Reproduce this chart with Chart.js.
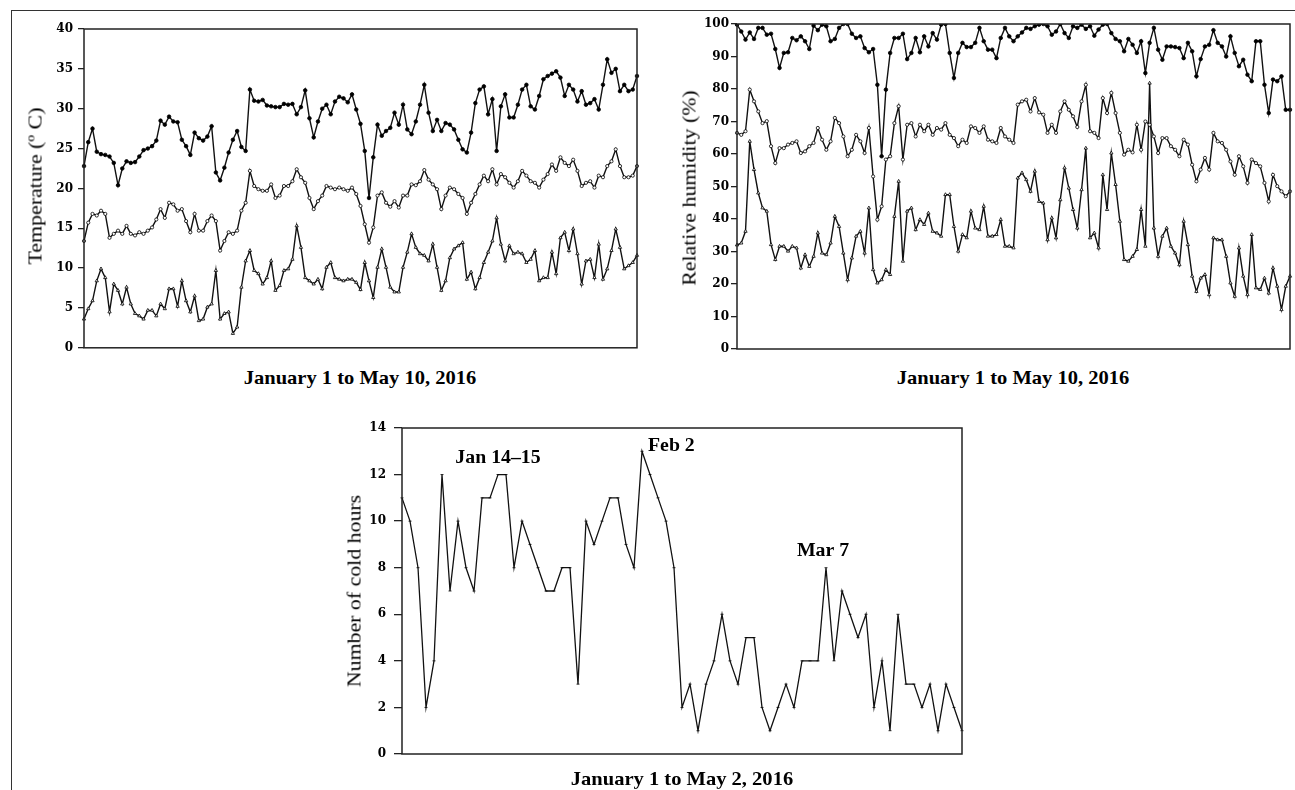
<!DOCTYPE html>
<html>
<head>
<meta charset="utf-8">
<script src="https://cdn.jsdelivr.net/npm/chart.js@4.4.1/dist/chart.umd.min.js"></script>
<style>
  html, body { margin:0; padding:0; background:#fff; }
  body { width:1295px; height:790px; position:relative; overflow:hidden; }
  .frame { position:absolute; left:11px; top:10px; width:1400px; height:900px; border-left:1.5px solid #333; border-top:1.5px solid #333; }
  canvas { position:absolute; }
  .t { position:absolute; white-space:nowrap; color:#000; font-family:"Liberation Serif","Times New Roman",serif; line-height:1; }
  .xt { font-weight:bold; font-size:19px; transform:translate(-50%,-50%) scaleX(1.08); }
  .yt { font-size:19px; transform:translate(-50%,-50%) rotate(-90deg) scaleX(1.15); }
</style>
</head>
<body>
<div class="frame"></div>
<canvas id="c1" width="660" height="360" style="left:0;top:0;width:660px;height:360px"></canvas>
<canvas id="c2" width="635" height="360" style="left:660px;top:0;width:635px;height:360px"></canvas>
<canvas id="c3" width="660" height="370" style="left:330px;top:400px;width:660px;height:370px"></canvas>

<div class="t xt" style="left:360px;top:377px">January 1 to May 10, 2016</div>
<div class="t xt" style="left:1013px;top:377px">January 1 to May 10, 2016</div>
<div class="t xt" style="left:682px;top:778px">January 1 to May 2, 2016</div>
<div class="t yt" style="left:35px;top:186px">Temperature (º C)</div>
<div class="t yt" style="left:689px;top:188px">Relative humidity (%)</div>
<div class="t yt" style="left:354px;top:591px">Number of cold hours</div>

<script>
// ---------- DATA ----------
const tempMax = [
22.8, 25.8, 27.5, 24.6, 24.3, 24.2, 24.0, 23.2, 20.4, 22.5,
23.4, 23.2, 23.3, 24.0, 24.8, 25.0, 25.3, 26.0, 28.5, 28.0,
29.0, 28.4, 28.3, 26.1, 25.3, 24.2, 27.0, 26.3, 26.0, 26.5,
27.8, 22.0, 21.0, 22.6, 24.5, 26.1, 27.2, 25.2, 24.7, 32.4,
31.0, 30.9, 31.1, 30.4, 30.3, 30.2, 30.2, 30.6, 30.5, 30.6,
29.3, 30.2, 32.3, 28.8, 26.4, 28.4, 30.0, 30.5, 29.3, 30.9,
31.5, 31.3, 30.8,
31.8, 29.9, 28.1, 24.7, 18.8, 23.9, 28.0, 26.6, 27.2, 27.6,
29.5, 28.0, 30.5, 27.4, 26.8, 28.4, 30.5, 33.0, 29.5, 27.2,
28.6, 27.2, 28.2, 28.0, 27.4, 26.1, 24.9, 24.5, 27.0, 30.7,
32.4, 32.8, 29.3, 31.2, 24.7, 30.3, 31.8, 28.9, 28.9, 30.5,
32.4, 33.0, 30.3, 29.9, 31.6, 33.7, 34.1, 34.4, 34.7, 33.9,
31.6, 33.0, 32.4, 30.9, 32.2, 30.5, 30.7, 31.2, 29.9, 33.0,
36.2, 34.5, 35.0, 32.2, 33.0, 32.2, 32.4, 34.1
];
const tempMean = [
13.4, 15.7, 16.8, 16.6, 17.2, 16.8, 13.8, 14.3, 14.7, 14.3,
15.3, 14.3, 14.1, 14.5, 14.3, 14.7, 15.1, 16.1, 17.4, 16.3,
18.2, 18.0, 17.2, 17.4, 15.9, 14.5, 16.8, 14.7, 14.7, 15.9,
16.6, 15.9, 12.2, 13.4, 14.5, 14.3, 14.7, 17.2, 18.2, 22.2,
20.3, 19.9, 19.7, 19.7, 20.5, 18.8, 19.1, 20.3, 20.3, 20.9,
22.4, 21.4, 20.7, 18.8, 17.4, 18.4, 19.1, 20.3, 20.1, 19.9,
20.1, 19.9, 19.7,
20.1, 19.3, 17.8, 15.5, 13.2, 15.1, 19.1, 19.5, 18.2, 17.7,
18.4, 17.6, 19.1, 19.1, 20.5, 20.4, 20.9, 22.3, 21.1, 20.5,
19.9, 17.4, 19.1, 20.1, 19.9, 19.3, 18.8, 16.8, 18.2, 19.3,
20.5, 21.6, 20.9, 22.4, 20.5, 21.8, 21.4, 20.7, 20.1, 20.9,
22.2, 21.6, 20.9, 20.7, 20.1, 21.1, 21.8, 23.0, 22.2, 23.9,
23.2, 22.8, 23.6, 22.2, 20.3, 20.7, 20.9, 20.1, 21.6, 21.4,
22.8, 23.4, 24.9, 22.8, 21.4, 21.4, 21.6, 22.8
];
const tempMin = [
3.6, 4.9, 5.9, 8.4, 9.9, 8.8, 4.5, 8.0, 7.2, 5.5,
7.6, 5.5, 4.3, 4.0, 3.6, 4.7, 4.7, 4.0, 5.5, 4.9,
7.4, 7.4, 5.2, 8.4, 5.9, 4.5, 6.5, 3.4, 3.6, 5.1,
5.5, 9.7, 3.6, 4.3, 4.5, 1.8, 2.6, 7.6, 10.9, 12.2,
9.7, 9.3, 8.0, 8.8, 10.9, 7.2, 7.8, 9.7, 9.9, 11.1,
15.3, 12.6, 8.8, 8.4, 8.0, 8.6, 7.4, 10.1, 10.7, 8.8,
8.6, 8.4, 8.6,
8.6, 8.2, 7.3, 10.7, 8.4, 6.3, 10.1, 12.4, 10.1, 7.6,
7.0, 7.0, 10.1, 12.0, 14.3, 12.6, 11.8, 11.6, 10.9, 13.0,
10.1, 7.2, 8.4, 11.3, 12.4, 12.8, 13.2, 8.6, 9.5, 7.4,
8.8, 10.7, 12.0, 13.4, 16.3, 13.0, 10.9, 12.8, 11.8, 12.0,
11.8, 10.7, 11.1, 12.2, 8.4, 8.8, 8.8, 12.0, 9.3, 13.8,
14.5, 12.2, 14.9, 11.8, 8.0, 10.9, 11.1, 8.8, 13.0, 8.6,
9.9, 12.2, 14.9, 12.6, 9.9, 10.3, 10.7, 11.6
];
const rhMax = [
99.8, 97.7, 95.2, 97.4, 95.4, 98.8, 98.8, 96.7, 97.0, 92.3,
86.5, 91.1, 91.3, 95.7, 95.0, 96.2, 94.7, 92.3, 99.5, 98.1,
99.8, 99.3, 94.7, 95.4, 98.8, 100, 100, 97.0, 95.7, 96.2,
92.6, 91.3, 92.3, 81.3, 59.3, 79.8, 91.1, 95.7, 95.7, 97.0,
89.2, 91.1, 95.7, 91.3, 96.2, 93.1, 97.2, 95.2, 99.8, 100,
91.1, 83.4, 91.1, 94.2, 92.9, 92.9, 94.2, 98.8, 94.7, 92.1,
92.1, 89.5, 95.7, 98.8, 96.2, 94.7, 96.2, 97.4, 98.8, 98.5,
99.3, 99.8, 100, 99.3, 96.7, 97.7, 100, 97.2, 95.7, 99.3,
98.8, 99.8, 98.5, 99.3, 96.4, 98.3, 99.8, 100, 97.2, 95.4,
94.7, 91.6, 95.4, 93.6, 91.1, 94.7, 84.9, 94.2, 98.8, 92.1,
89.0, 93.1, 93.1, 92.9, 92.6, 89.5, 94.2, 91.6, 83.9, 89.2,
93.1, 93.6, 98.1, 94.2, 93.1, 90.0, 96.2, 91.1, 87.0, 89.0,
84.4, 82.4, 94.7, 94.7, 81.3, 72.6, 82.9, 82.4, 83.9, 73.6,
73.6
];
const rhMean = [
66.5, 65.9, 67.0, 79.8, 76.2, 73.1, 69.5, 70.1, 62.4, 57.2,
61.8, 61.8, 62.9, 63.4, 63.9, 60.3, 60.8, 62.4, 63.4, 68.0,
64.4, 61.3, 63.9, 71.1, 69.5, 65.4, 59.3, 61.3, 65.9, 63.9,
60.3, 68.0, 53.1, 39.8, 43.9, 58.3, 59.3, 69.5, 74.7, 58.3,
69.0, 69.5, 65.4, 69.0, 67.0, 69.0, 65.9, 68.0, 67.5, 69.5,
65.9, 64.9, 62.4, 64.4, 63.4, 68.5, 68.0, 66.5, 68.5, 64.4,
63.9, 63.4, 68.0, 65.4, 64.4, 63.4, 75.2, 76.2, 76.7, 73.1,
77.2, 72.8, 72.1, 66.5, 69.0, 66.5, 73.1, 76.2, 73.6, 71.6,
68.3, 76.2, 81.3, 67.0, 66.5, 64.9, 77.2, 72.6, 78.8, 72.6,
66.5, 59.8, 61.3, 60.5, 69.0, 61.3, 70.0, 69.0, 65.4, 60.3,
64.9, 64.9, 62.4, 61.3, 59.3, 64.4, 62.9, 56.7, 51.6, 55.2,
58.8, 55.2, 66.5, 63.9, 63.4, 61.3, 57.7, 53.6, 59.3, 56.2,
51.1, 58.3, 57.2, 56.2, 51.1, 45.4, 53.6, 50.1, 48.5, 47.0,
48.5
];
const rhMin = [
32.0, 32.6, 36.2, 63.9, 55.2, 48.0, 43.4, 42.4, 32.1, 27.5,
31.6, 31.6, 30.1, 31.6, 31.1, 24.9, 29.0, 25.4, 28.5, 35.7,
29.5, 29.0, 32.6, 40.8, 37.7, 29.5, 21.3, 28.0, 34.7, 36.2,
29.5, 43.4, 24.4, 20.3, 21.3, 24.4, 22.9, 40.8, 51.6, 27.0,
42.4, 43.4, 36.7, 39.8, 38.3, 41.8, 36.2, 35.7, 34.7, 47.5,
47.5, 37.7, 30.1, 35.2, 34.2, 42.4, 37.2, 36.7, 43.9, 34.7,
34.7, 35.2, 39.8, 31.6, 31.6, 31.1, 52.6, 54.2, 52.1, 48.5,
54.7, 45.4, 44.9, 33.6, 40.3, 34.2, 45.9, 55.7, 49.5, 42.9,
37.2, 49.0, 61.8, 34.2, 35.7, 31.1, 53.6, 42.9, 60.3, 50.6,
39.3, 27.5, 27.0, 28.5, 30.6, 42.9, 31.6, 81.8, 37.2, 28.5,
34.7, 37.2, 31.6, 29.5, 25.9, 39.3, 32.1, 22.4, 17.7, 21.8,
22.9, 16.7, 34.2, 33.6, 33.6, 28.5, 20.3, 16.2, 31.1, 22.4,
16.7, 35.2, 18.8, 18.3, 21.8, 17.2, 24.9, 19.3, 12.1, 19.3,
22.4
];
const coldHours = [
11, 10, 8, 2, 4, 12, 7, 10, 8, 7, 11, 11, 12, 12, 8, 10, 9, 8, 7, 7,
8, 8, 3, 10, 9, 10, 11, 11, 9, 8, 13, 12, 11, 10, 8, 2, 3, 1, 3, 4,
6, 4, 3, 5, 5, 2, 1, 2, 3, 2, 4, 4, 4, 8, 4, 7, 6, 5, 6, 2,
4, 1, 6, 3, 3, 2, 3, 1, 3, 2, 1
];
const coldNotes = ['Jan 14–15', 'Feb 2', 'Mar 7'];
const coldNoteIndex = [12, 30, 53];

// day categories (Jan 1 – May 10, 2016)
const monthNames = ['Jan','Feb','Mar','Apr','May'];
const monthDays = [31, 29, 31, 30, 10];
const dayLabels = [];
monthNames.forEach((m, k) => { for (let d = 1; d <= monthDays[k]; d++) dayLabels.push(m + ' ' + d); });
const coldLabels = coldHours.map((v, i) => 'd' + (i + 1));

const tempTicks = { min: 0, max: 40, step: 5 };
const rhTicks = { min: 0, max: 100, step: 10 };
const coldTicks = { min: 0, max: 14, step: 2 };

// ---------- STYLE / BUILD ----------
const INK = '#111';
const boxPlugin = {
  id: 'box',
  afterDraw(chart) {
    const a = chart.chartArea, ctx = chart.ctx;
    ctx.save();
    ctx.strokeStyle = '#222';
    ctx.lineWidth = 1.5;
    ctx.strokeRect(a.left, a.top, a.right - a.left, a.bottom - a.top);
    ctx.restore();
  }
};
const notesPlugin = {
  id: 'notes',
  afterDatasetsDraw(chart, args, opts) {
    if (!opts.items) return;
    const ctx = chart.ctx, xs = chart.scales.x, ys = chart.scales.y;
    ctx.save();
    ctx.fillStyle = '#000';
    ctx.font = 'bold 18px "Liberation Serif", "Times New Roman", serif';
    ctx.textBaseline = 'alphabetic';
    opts.items.forEach(it => {
      const x = xs.getPixelForValue(it.index) + it.dx;
      const y = ys.getPixelForValue(chart.data.datasets[0].data[it.index]) + it.dy;
      ctx.save();
      ctx.translate(x, y);
      ctx.scale(1.1, 1);
      ctx.textAlign = it.align;
      ctx.fillText(it.text, 0, 0);
      ctx.restore();
    });
    ctx.restore();
  }
};

function yAxis(t, w, tickLen, pad) {
  return {
    min: t.min, max: t.max,
    border: { display: false },
    grid: { display: true, drawOnChartArea: false, drawTicks: true, tickLength: tickLen, color: '#222', lineWidth: 1.3 },
    ticks: { stepSize: t.step, padding: pad, color: '#000',
      font: { family: 'DejaVu Serif', weight: 'bold', size: 12 } },
    afterFit(s) { s.width = w; }
  };
}
function series(data, style) {
  const base = { data, borderColor: INK, borderWidth: 1.4, tension: 0, fill: false,
    pointBorderColor: '#000', pointBorderWidth: 0.8, pointHoverRadius: 0 };
  if (style === 'max') Object.assign(base, { pointStyle: 'circle', pointRadius: 1.8, pointBackgroundColor: '#000' });
  if (style === 'mean') Object.assign(base, { pointStyle: 'circle', pointRadius: 1.6, pointBackgroundColor: '#fff' });
  if (style === 'min') Object.assign(base, { pointStyle: 'triangle', pointRadius: 1.9, pointBackgroundColor: '#fff' });
  if (style === 'plain') Object.assign(base, { pointStyle: 'line', pointRadius: 1.5, borderWidth: 1.3 });
  return base;
}
function common(padding, yA) {
  return {
    responsive: false, animation: false, devicePixelRatio: 1,
    layout: { padding },
    plugins: { legend: { display: false }, tooltip: { enabled: false } },
    scales: { x: { display: false, offset: false }, y: yA },
    events: []
  };
}

new Chart(document.getElementById('c1'), {
  type: 'line',
  data: { labels: dayLabels, datasets: [series(tempMax, 'max'), series(tempMean, 'mean'), series(tempMin, 'min')] },
  options: common({ left: 0, top: 29, right: 23, bottom: 11 }, yAxis(tempTicks, 84, 6, 5)),
  plugins: [boxPlugin]
});

new Chart(document.getElementById('c2'), {
  type: 'line',
  data: { labels: dayLabels, datasets: [series(rhMax, 'max'), series(rhMean, 'mean'), series(rhMin, 'min')] },
  options: common({ left: 0, top: 24, right: 5, bottom: 11 }, yAxis(rhTicks, 77, 6, 2)),
  plugins: [boxPlugin]
});

const o3 = common({ left: 0, top: 28, right: 28, bottom: 16 }, yAxis(coldTicks, 72, 8, 8));
o3.plugins.notes = { items: [
  { text: coldNotes[0], index: coldNoteIndex[0], dx: 0, dy: -12, align: 'center' },
  { text: coldNotes[1], index: coldNoteIndex[1], dx: 6, dy: 0, align: 'left' },
  { text: coldNotes[2], index: coldNoteIndex[2], dx: -3, dy: -12, align: 'center' }
]};
new Chart(document.getElementById('c3'), {
  type: 'line',
  data: { labels: coldLabels, datasets: [series(coldHours, 'plain')] },
  options: o3,
  plugins: [boxPlugin, notesPlugin]
});
</script>
</body>
</html>
